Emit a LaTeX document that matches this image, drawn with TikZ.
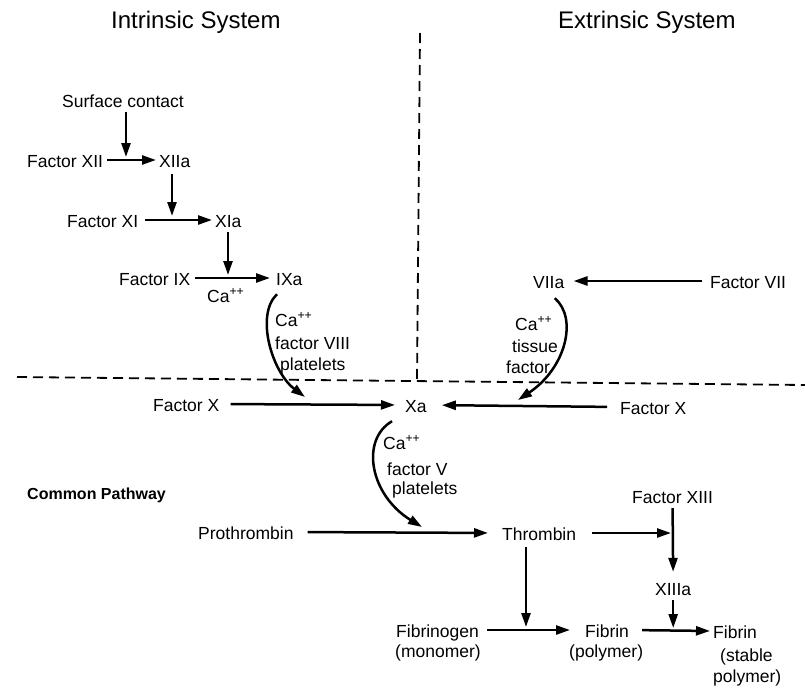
\documentclass[tikz,border=0pt]{standalone}
\usepackage{fontspec}
\setmainfont{Liberation Sans}
\usetikzlibrary{arrows.meta,calc}
\begin{document}
\begin{tikzpicture}[x=1pt,y=-1pt,
  lbl/.style={font=\fontsize{17.5}{21}\selectfont, inner sep=0pt, text height=15pt, text depth=1pt, anchor=base west},
  ttl/.style={font=\fontsize{24}{28}\selectfont, inner sep=0pt, anchor=base west},
  cpw/.style={font=\bfseries\fontsize{16}{19}\selectfont, inner sep=0pt, anchor=base west},
  arr/.style={line width=2.5pt, -{Triangle[length=14pt,width=9pt]}},
  sep/.style={line width=1.8pt, dash pattern=on 10pt off 6pt}
]
\useasboundingbox[fill=white] (0,0) rectangle (805,691);

% titles
\node[ttl] (t1) at (111,28) {Intrinsic System};
\node[ttl] (t2) at (558,28) {Extrinsic System};

% separators
\coordinate (dv1) at (420,33);
\coordinate (dv2) at (417,380);
\coordinate (dh1) at (17,377);
\coordinate (dh2) at (805,385);
\draw[sep] (dv1) -- (dv2);
\draw[sep] (dh1) -- (dh2);

% intrinsic
\node[lbl] (sc) at (62,107) {Surface contact};
\node[lbl] (f12) at (27,167) {Factor XII};
\node[lbl] (x12a) at (159,167) {XIIa};
\node[lbl] (f11) at (67,227) {Factor XI};
\node[lbl] (x11a) at (215,227) {XIa};
\node[lbl] (f9) at (119,285) {Factor IX};
\node[lbl] (x9a) at (276,285) {IXa};
\node[lbl] (ca1) at (207,302) {Ca\textsuperscript{++}};
\node[lbl] (ca2) at (275,326) {Ca\textsuperscript{++}};
\node[lbl] (f8) at (275,349) {factor VIII};
\node[lbl] (pl1) at (280,370) {platelets};

% extrinsic
\node[lbl] (x7a) at (533,288) {VIIa};
\node[lbl] (f7) at (710,288) {Factor VII};
\node[lbl] (ca3) at (515,330) {Ca\textsuperscript{++}};
\node[lbl] (tis) at (512,352) {tissue};
\node[lbl] (fac) at (506,373) {factor};

% common
\node[lbl] (f10l) at (153,411) {Factor X};
\node[lbl] (xa) at (405,412) {Xa};
\node[lbl] (f10r) at (620,414) {Factor X};
\node[lbl] (ca4) at (383,449) {Ca\textsuperscript{++}};
\node[lbl] (f5) at (387,475) {factor V};
\node[lbl] (pl2) at (392,494) {platelets};
\node[cpw] (cp) at (27,499) {Common Pathway};
\node[lbl] (pro) at (198,539) {Prothrombin};
\node[lbl] (thr) at (502,540) {Thrombin};
\node[lbl] (f13) at (632,503) {Factor XIII};
\node[lbl] (x13a) at (655,595) {XIIIa};
\node[lbl] (fgn) at (396,637) {Fibrinogen};
\node[lbl] (mono) at (395,657) {(monomer)};
\node[lbl] (fib1) at (585,637) {Fibrin};
\node[lbl] (poly) at (569,657) {(polymer)};
\node[lbl] (fib2) at (713,638) {Fibrin};
\node[lbl] (stab) at (720,661) {(stable};
\node[lbl] (poly2) at (713,682) {polymer)};

% junction points
\coordinate (j1) at (126,157);
\coordinate (j2) at (172,216);
\coordinate (j3) at (228,275);
\coordinate (j4) at (671,536);
\coordinate (j6) at (526,627);
\coordinate (j7) at (305,397);
\coordinate (j8) at (518,400);
\coordinate (j9) at (422,527);

% intrinsic arrows
\draw[arr, shorten <=4pt] (sc.south -| j1) -- (j1);
\draw[arr, shorten <=4pt, shorten >=3pt] (f12.east) -- (x12a.west);
\draw[arr, shorten <=6pt] (x12a.south -| j2) -- (j2);
\draw[arr, shorten <=7pt, shorten >=3pt] (f11.east) -- (x11a.west);
\draw[arr, shorten <=4pt] (x11a.south -| j3) -- (j3);
\draw[arr, shorten <=5pt, shorten >=6pt] (f9.east) -- (x9a.west);
\draw[arr] ([xshift=1pt,yshift=-8pt]x9a.south west) .. controls (255,315) and (272,372) .. (j7);

% extrinsic arrows
\draw[arr, shorten <=8pt, shorten >=9pt] (f7.west) -- (x7a.east);
\draw[arr] ([xshift=6pt,yshift=-9pt]x7a.south) .. controls (578,318) and (566,368) .. (j8);

% factor X
\draw[arr, shorten <=11pt, shorten >=10pt] (f10l.east) -- (xa.west);
\draw[arr, shorten <=13pt, shorten >=15pt] (f10r.west) -- (xa.east);
\draw[arr] ([xshift=-13pt,yshift=-8pt]xa.south west) .. controls (360,440) and (370,495) .. (j9);

% common pathway
\draw[arr, shorten <=14pt, shorten >=14pt] (pro.east) -- (thr.west);
\draw[arr, shorten <=16pt] (thr.east) -- (thr.east -| j4);
\draw[arr, shorten <=4pt, shorten >=8pt] (f13.south) -- (x13a.north);
\draw[arr, shorten <=4pt, shorten >=2pt] (x13a.south) -- (x13a.south |- fib1.east);
\draw[arr, shorten <=6pt] (thr.south -| j6) -- (j6);
\draw[arr, shorten <=8pt, shorten >=15pt] (fgn.east) -- (fib1.west);
\draw[arr, shorten <=13pt, shorten >=3pt] (fib1.east) -- (fib2.west);
\end{tikzpicture}
\end{document}
